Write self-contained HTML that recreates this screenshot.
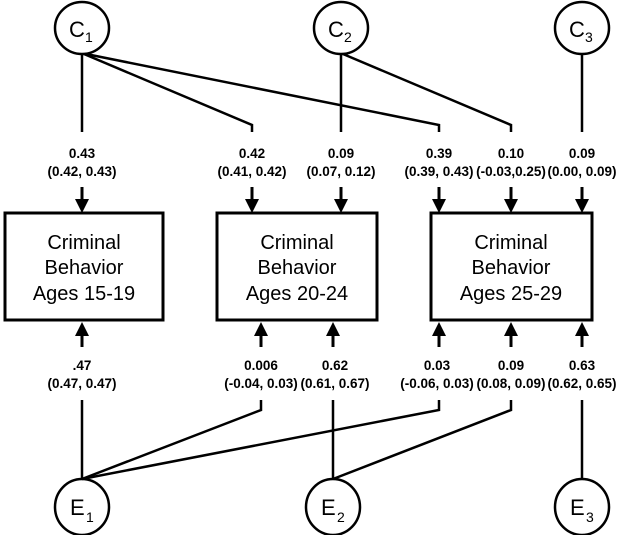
<!DOCTYPE html>
<html><head><meta charset="utf-8"><style>
html,body{margin:0;padding:0;background:#fff;}
svg{display:block;}
text{font-family:"Liberation Sans",Arial,sans-serif;fill:#000;}
.l{font-size:13.5px;font-weight:bold;text-anchor:middle;}
.b{font-size:20px;text-anchor:middle;}
.c{font-size:22px;}
.s{font-size:14px;}
</style></head><body>
<svg width="627" height="535" viewBox="0 0 627 535" xmlns="http://www.w3.org/2000/svg">
<g stroke="#000" stroke-width="2.5" fill="none">
<ellipse cx="82" cy="28" rx="27" ry="26"/>
<ellipse cx="341" cy="28" rx="27" ry="26"/>
<ellipse cx="582" cy="28" rx="27" ry="26"/>
<ellipse cx="82" cy="507" rx="27" ry="28"/>
<ellipse cx="333" cy="507" rx="27" ry="28"/>
<ellipse cx="582" cy="507" rx="27" ry="28"/>
<path d="M82,54 V132"/>
<path d="M84,54 L252,125 V132"/>
<path d="M86,54 L439,125 V132"/>
<path d="M341,54 V132"/>
<path d="M343,54 L511,125 V132"/>
<path d="M582,54 V132"/>
<path d="M82,479 V400"/>
<path d="M82,479 L261,410 V400"/>
<path d="M82,479 L439,410 V400"/>
<path d="M333,479 V400"/>
<path d="M333,479 L511,410 V400"/>
<path d="M582,479 V400"/>
<rect x="5" y="213" width="158" height="107" stroke-width="3"/>
<rect x="217" y="213" width="160" height="107" stroke-width="3"/>
<rect x="431" y="213" width="161" height="107" stroke-width="3"/>
</g>
<g fill="#000">
<g stroke="#000" stroke-width="3">
<path d="M82,187V200M252,187V200M341,187V200M439,187V200M511,187V200M582,187V200"/>
<path d="M82,347V334M261,347V334M333,347V334M439,347V334M511,347V334M582,347V334"/>
</g>
<path d="M75,199h14l-7,14z M245,199h14l-7,14z M334,199h14l-7,14z M432,199h14l-7,14z M504,199h14l-7,14z M575,199h14l-7,14z"/>
<path d="M75,336h14l-7,-14z M254,336h14l-7,-14z M326,336h14l-7,-14z M432,336h14l-7,-14z M504,336h14l-7,-14z M575,336h14l-7,-14z"/>
</g>
<text x="69" y="37" class="c">C</text><text x="85" y="42" class="s">1</text>
<text x="328" y="37" class="c">C</text><text x="344" y="42" class="s">2</text>
<text x="569" y="37" class="c">C</text><text x="585" y="42" class="s">3</text>
<text x="70" y="515" class="c">E</text><text x="86" y="522" class="s">1</text>
<text x="321" y="515" class="c">E</text><text x="337" y="522" class="s">2</text>
<text x="570" y="515" class="c">E</text><text x="586" y="522" class="s">3</text>
<text x="84" y="249" class="b">Criminal</text><text x="84" y="274" class="b">Behavior</text><text x="84" y="300" class="b">Ages 15-19</text>
<text x="297" y="249" class="b">Criminal</text><text x="297" y="274" class="b">Behavior</text><text x="297" y="300" class="b">Ages 20-24</text>
<text x="511" y="249" class="b">Criminal</text><text x="511" y="274" class="b">Behavior</text><text x="511" y="300" class="b">Ages 25-29</text>
<text x="82" y="158" class="l">0.43</text><text x="82" y="176" class="l">(0.42, 0.43)</text>
<text x="252" y="158" class="l">0.42</text><text x="252" y="176" class="l">(0.41, 0.42)</text>
<text x="341" y="158" class="l">0.09</text><text x="341" y="176" class="l">(0.07, 0.12)</text>
<text x="439" y="158" class="l">0.39</text><text x="439" y="176" class="l">(0.39, 0.43)</text>
<text x="511" y="158" class="l">0.10</text><text x="511" y="176" class="l">(-0.03,0.25)</text>
<text x="582" y="158" class="l">0.09</text><text x="582" y="176" class="l">(0.00, 0.09)</text>
<text x="82" y="370" class="l">.47</text><text x="82" y="388" class="l">(0.47, 0.47)</text>
<text x="261" y="370" class="l">0.006</text><text x="261" y="388" class="l">(-0.04, 0.03)</text>
<text x="335" y="370" class="l">0.62</text><text x="335" y="388" class="l">(0.61, 0.67)</text>
<text x="437" y="370" class="l">0.03</text><text x="437" y="388" class="l">(-0.06, 0.03)</text>
<text x="511" y="370" class="l">0.09</text><text x="511" y="388" class="l">(0.08, 0.09)</text>
<text x="582" y="370" class="l">0.63</text><text x="582" y="388" class="l">(0.62, 0.65)</text>
</svg>
</body></html>
